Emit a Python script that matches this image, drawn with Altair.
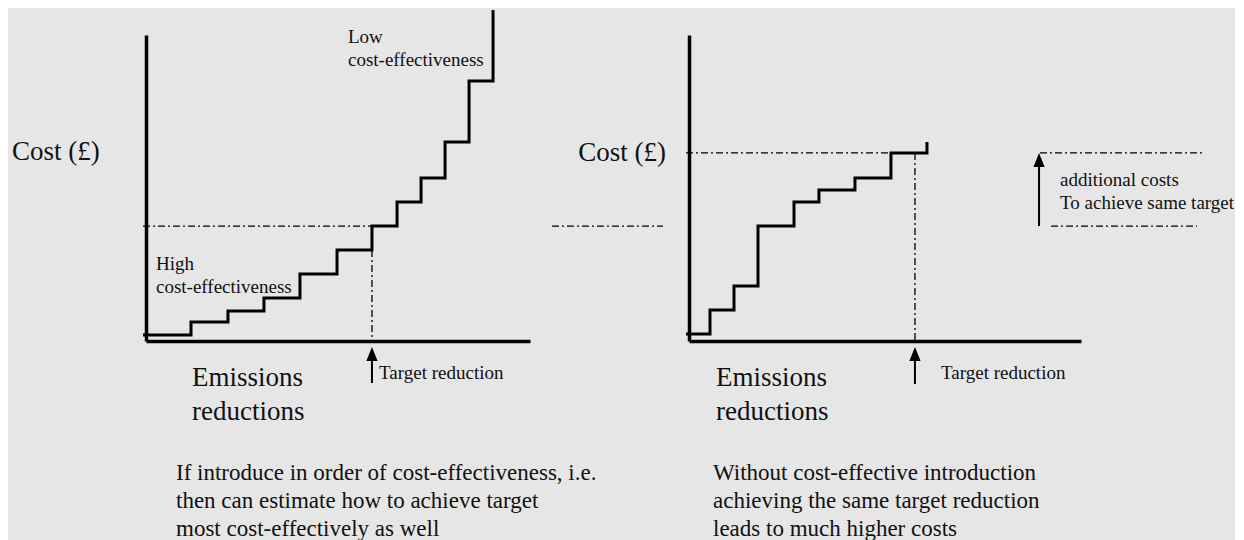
import altair as alt
import pandas as pd

# ---------------- data ----------------
# x: cumulative emissions reduction (arbitrary units), y: cost (arbitrary units)
# Left: measures introduced in order of cost-effectiveness (step edges / cost levels)
left_edges = [-0.25, 3.75, 6.83, 9.83, 12.83, 15.92, 18.83, 20.92, 22.92, 24.92, 26.92, 28.92]
left_costs = [0.5, 1.58, 2.5, 3.58, 5.58, 7.58, 9.58, 11.58, 13.58, 16.58, 21.67, 27.58]
# Right: measures introduced without regard to cost-effectiveness
right_edges = [-0.25, 1.75, 3.75, 5.75, 8.75, 10.83, 13.83, 16.83, 19.83]
right_costs = [0.58, 2.58, 4.58, 9.58, 11.58, 12.58, 13.58, 15.67, 16.58]

target_reduction = 18.83
target_cost_ordered = 9.58
target_cost_unordered = 15.67

left_caption = ["If introduce in order of cost-effectiveness, i.e.",
                "then can estimate how to achieve target",
                "most cost-effectively as well"]
right_caption = ["Without cost-effective introduction",
                 "achieving the same target reduction",
                 "leads to much higher costs"]

# ---------------- style ----------------
FONT = "Liberation Serif"
BG = "#e6e6e6"
INK = "#000000"
DASHDOT = [7, 3, 2, 3]
ARROW = "M0,-1L0.8,1L-0.8,1Z"
UNIT = 12.0
LEFT_W, RIGHT_W, H = 384, 392, 306


def panel(width, steps, segs, arrows, heads, texts, texts_right):
    xs = alt.Scale(domain=[0, width / UNIT], nice=False, zero=False)
    ys = alt.Scale(domain=[0, H / UNIT], nice=False, zero=False)
    ax = alt.Axis(title=None, labels=False, ticks=False, grid=False,
                  domainColor=INK, domainWidth=3.5)
    X = lambda: alt.X("x:Q", scale=xs, axis=ax)
    Y = lambda: alt.Y("y:Q", scale=ys, axis=ax)

    step = alt.Chart(steps).mark_line(
        interpolate="step-after", color=INK, strokeWidth=3
    ).encode(x=X(), y=Y(), order="i:Q")

    seg = alt.Chart(segs).mark_rule(
        color=INK, strokeWidth=1.3, strokeDash=DASHDOT
    ).encode(x=X(), x2="x2:Q", y=Y(), y2="y2:Q")

    arr = alt.Chart(arrows).mark_rule(color=INK, strokeWidth=2).encode(
        x=X(), y=Y(), y2="y2:Q")

    head = alt.Chart(heads).mark_point(
        shape=ARROW, filled=True, size=196, color=INK, opacity=1, strokeWidth=0
    ).encode(x=X(), y=Y())

    txt = alt.Chart(texts).mark_text(
        align="left", baseline="middle", font=FONT, color="#111111", dy=1
    ).encode(x=X(), y=Y(), text="label:N", size=alt.Size("fs:Q", scale=None))

    txr = alt.Chart(texts_right).mark_text(
        align="right", baseline="middle", font=FONT, color="#111111", dy=1
    ).encode(x=X(), y=Y(), text="label:N", size=alt.Size("fs:Q", scale=None))

    return alt.layer(step, seg, arr, head, txt, txr).properties(width=width, height=H)


def steps_df(edges, costs):
    return pd.DataFrame({"i": list(range(len(edges))), "x": edges, "y": costs})


cap_y = [-10.92, -13.25, -15.58]
CAP_FS = 23

# ---- left panel ----
left_segs = pd.DataFrame([
    {"x": -0.25, "x2": target_reduction, "y": target_cost_ordered, "y2": target_cost_ordered},
    {"x": target_reduction, "x2": target_reduction, "y": left_costs[5], "y2": 0},
    {"x": 33.83, "x2": 43.08, "y": target_cost_ordered, "y2": target_cost_ordered},
])
left_arrows = pd.DataFrame([{"x": target_reduction, "y": -0.8, "y2": -3.5}])
left_heads = pd.DataFrame([{"x": target_reduction, "y": -1.083}])
left_texts = pd.DataFrame(
    [
        {"label": "Cost (£)", "x": -11.17, "y": 15.83, "fs": 27},
        {"label": "Emissions", "x": 3.83, "y": -3.0, "fs": 27},
        {"label": "reductions", "x": 3.83, "y": -5.83, "fs": 27},
        {"label": "Target reduction", "x": 19.42, "y": -2.58, "fs": 19},
        {"label": "Low", "x": 16.83, "y": 25.42, "fs": 19},
        {"label": "cost-effectiveness", "x": 16.83, "y": 23.5, "fs": 19},
        {"label": "High", "x": 0.83, "y": 6.5, "fs": 19},
        {"label": "cost-effectiveness", "x": 0.83, "y": 4.58, "fs": 19},
    ]
    + [{"label": t, "x": 2.5, "y": yy, "fs": CAP_FS} for t, yy in zip(left_caption, cap_y)]
)
left_texts_r = pd.DataFrame([{"label": "", "x": 0, "y": 0, "fs": 10}])

left = panel(LEFT_W, steps_df(left_edges, left_costs), left_segs, left_arrows,
             left_heads, left_texts, left_texts_r)

# ---- right panel ----
right_segs = pd.DataFrame([
    {"x": -0.25, "x2": target_reduction, "y": target_cost_unordered, "y2": target_cost_unordered},
    {"x": target_reduction, "x2": target_reduction, "y": target_cost_unordered, "y2": 0},
    {"x": 29.25, "x2": 43.0, "y": target_cost_unordered, "y2": target_cost_unordered},
    {"x": 30.17, "x2": 42.33, "y": target_cost_ordered, "y2": target_cost_ordered},
])
right_arrows = pd.DataFrame([
    {"x": target_reduction, "y": -0.8, "y2": -3.58},
    {"x": 29.17, "y": target_cost_ordered, "y2": 15.0},
])
right_heads = pd.DataFrame([
    {"x": target_reduction, "y": -1.083},
    {"x": 29.17, "y": 15.08},
])
right_texts = pd.DataFrame(
    [
        {"label": "Emissions", "x": 2.25, "y": -3.0, "fs": 27},
        {"label": "reductions", "x": 2.25, "y": -5.83, "fs": 27},
        {"label": "Target reduction", "x": 21.0, "y": -2.58, "fs": 19},
        {"label": "additional costs", "x": 30.92, "y": 13.5, "fs": 19},
        {"label": "To achieve same target", "x": 30.92, "y": 11.58, "fs": 19},
    ]
    + [{"label": t, "x": 2.0, "y": yy, "fs": CAP_FS} for t, yy in zip(right_caption, cap_y)]
)
right_texts_r = pd.DataFrame([{"label": "Cost (£)", "x": -1.92, "y": 15.75, "fs": 27}])

right = panel(RIGHT_W, steps_df(right_edges, right_costs), right_segs, right_arrows,
              right_heads, right_texts, right_texts_r)

chart = alt.hconcat(left, right, spacing=159, bounds="flush").properties(
    background=BG,
    padding={"left": 3, "top": -4, "right": 0, "bottom": 0},
).configure_view(stroke=None)

chart.save("out.html", embed_options={"renderer": "svg", "actions": False})
